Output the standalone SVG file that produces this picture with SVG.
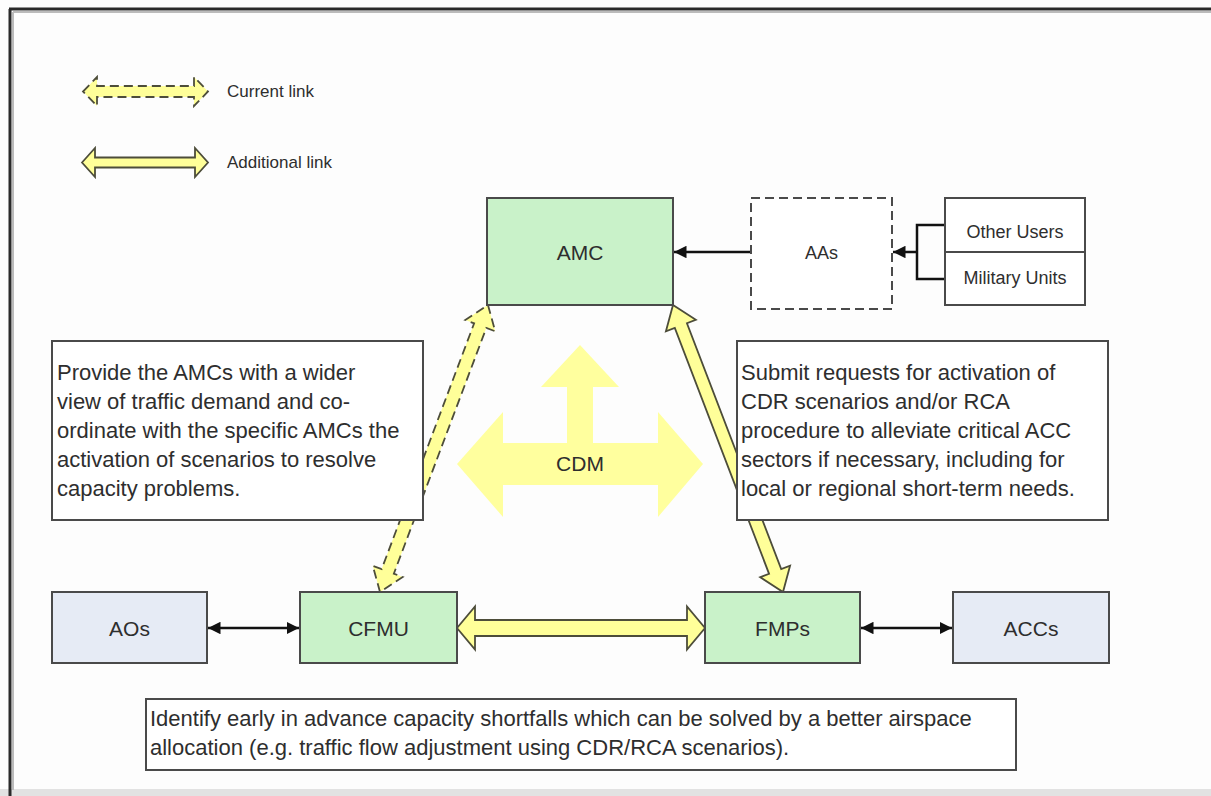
<svg xmlns="http://www.w3.org/2000/svg" width="1211" height="796" viewBox="0 0 1211 796">
<style>
  text { font-family: "Liberation Sans", Arial, sans-serif; fill: #2e2e2e; }
  .lbl { font-size: 21px; text-anchor: middle; }
  .sm { font-size: 18px; text-anchor: middle; }
  .leg { font-size: 17px; }
  .body { font-size: 22px; }
  .green { fill: #c9f2c9; stroke: #4a4a4a; stroke-width: 2; }
  .blue { fill: #e6ebf5; stroke: #4a4a4a; stroke-width: 2; }
  .note { fill: #ffffff; stroke: #4a4a4a; stroke-width: 2; }
  .link { fill: #ffff99; stroke: #4d4d3a; stroke-width: 1.8; stroke-linejoin: miter; }
  .dash { stroke-dasharray: 9 5; }
  .wire { stroke: #111; stroke-width: 2.5; fill: none; }
</style>
<defs>
  <marker id="ah" viewBox="0 0 10 10" refX="10" refY="5" markerWidth="5" markerHeight="5" orient="auto-start-reverse" markerUnits="strokeWidth">
    <path d="M0,0 L10,5 L0,10 Z" fill="#111"/>
  </marker>
</defs>

<!-- background and frame -->
<rect x="0" y="0" width="1211" height="796" fill="#fdfdfd"/>
<rect x="0" y="789" width="1211" height="7" fill="#e2e2e2"/>
<line x1="9" y1="9" x2="1211" y2="9" stroke="#2a2a2a" stroke-width="3"/>
<line x1="10" y1="9" x2="10" y2="796" stroke="#2a2a2a" stroke-width="3"/>
<line x1="13" y1="12" x2="1211" y2="12" stroke="#bbbbbb" stroke-width="2"/>
<line x1="13" y1="12" x2="13" y2="790" stroke="#bbbbbb" stroke-width="2"/>

<!-- legend -->
<g id="legend">
  <path class="link dash" d="M83,91.5 L97,77 L97,86 L194,86 L194,77 L208,91.5 L194,106 L194,97 L97,97 L97,106 Z"/>
  <text class="leg" x="227" y="97">Current link</text>
  <path class="link" d="M82,162.5 L95,148 L95,157.5 L195,157.5 L195,148 L208,162.5 L195,177 L195,167.5 L95,167.5 L95,177 Z"/>
  <text class="leg" x="227" y="168">Additional link</text>
</g>

<!-- connectors -->
<g id="connectors">
  <g transform="translate(380,592) rotate(-69.38)">
    <path class="link dash" d="M0,0 L22,-16 L22,-6.5 L284.6,-6.5 L284.6,-16 L306.6,0 L284.6,16 L284.6,6.5 L22,6.5 L22,16 Z"/>
  </g>
  <g transform="translate(673,305) rotate(69.03)">
    <path class="link" d="M0,0 L22,-16 L22,-6.5 L285.4,-6.5 L285.4,-16 L307.4,0 L285.4,16 L285.4,6.5 L22,6.5 L22,16 Z"/>
  </g>
  <path class="link" d="M457,628 L475,606.5 L475,620 L687,620 L687,606.5 L705,628 L687,649.5 L687,636 L475,636 L475,649.5 Z"/>
  <line class="wire" x1="751" y1="252" x2="674" y2="252" marker-end="url(#ah)"/>
  <polyline class="wire" points="945,225 917,225 917,279 945,279"/>
  <line class="wire" x1="917" y1="252" x2="893" y2="252" marker-end="url(#ah)"/>
  <line class="wire" x1="208" y1="628" x2="299" y2="628" marker-start="url(#ah)" marker-end="url(#ah)"/>
  <line class="wire" x1="861" y1="628" x2="952" y2="628" marker-start="url(#ah)" marker-end="url(#ah)"/>
</g>

<!-- CDM -->
<g id="cdm">
  <path fill="#ffff9e" d="M580,345 L619,387 L593,387 L593,443 L658,443 L658,412 L703,464 L658,517 L658,485 L503,485 L503,517 L457,464 L503,412 L503,443 L567,443 L567,387 L541,387 Z"/>
  <text class="lbl" x="580" y="471">CDM</text>
</g>

<g id="amc">
  <rect class="green" x="487" y="198" width="186" height="107"/>
  <text class="lbl" x="580" y="259.5">AMC</text>
</g>
<g id="aas">
  <rect x="751" y="198" width="141" height="111" fill="#ffffff" stroke="#4a4a4a" stroke-width="2" stroke-dasharray="9 5"/>
  <text class="sm" x="821.5" y="258.5">AAs</text>
</g>
<g id="users">
  <rect x="945" y="198" width="140" height="107" fill="#ffffff" stroke="#4a4a4a" stroke-width="2"/>
  <line x1="945" y1="252" x2="1085" y2="252" stroke="#4a4a4a" stroke-width="2"/>
  <text class="sm" x="1015" y="238">Other Users</text>
  <text class="sm" x="1015" y="284">Military Units</text>
</g>

<g id="note-left">
  <rect class="note" x="52" y="341" width="371" height="179"/>
  <text class="body" x="57" y="380">Provide the AMCs with a wider</text>
  <text class="body" x="57" y="409">view of traffic demand and co-</text>
  <text class="body" x="57" y="438">ordinate with the specific AMCs the</text>
  <text class="body" x="57" y="467">activation of scenarios to resolve</text>
  <text class="body" x="57" y="496">capacity problems.</text>
</g>
<g id="note-right">
  <rect class="note" x="737" y="341" width="371" height="179"/>
  <text class="body" x="741" y="380">Submit requests for activation of</text>
  <text class="body" x="741" y="409">CDR scenarios and/or RCA</text>
  <text class="body" x="741" y="438">procedure to alleviate critical ACC</text>
  <text class="body" x="741" y="467">sectors if necessary, including for</text>
  <text class="body" x="741" y="496">local or regional short-term needs.</text>
</g>

<g id="aos">
  <rect class="blue" x="52" y="592" width="155" height="71"/>
  <text class="lbl" x="129.5" y="635.5">AOs</text>
</g>
<g id="cfmu">
  <rect class="green" x="300" y="592" width="157" height="71"/>
  <text class="lbl" x="378.5" y="635.5">CFMU</text>
</g>
<g id="fmps">
  <rect class="green" x="705" y="592" width="155" height="71"/>
  <text class="lbl" x="782.5" y="635.5">FMPs</text>
</g>
<g id="accs">
  <rect class="blue" x="953" y="592" width="156" height="71"/>
  <text class="lbl" x="1031" y="635.5">ACCs</text>
</g>

<g id="note-bottom">
  <rect class="note" x="146" y="699" width="870" height="71"/>
  <text class="body" x="150" y="726">Identify early in advance capacity shortfalls which can be solved by a better airspace</text>
  <text class="body" x="150" y="755">allocation (e.g. traffic flow adjustment using CDR/RCA scenarios).</text>
</g>
</svg>
